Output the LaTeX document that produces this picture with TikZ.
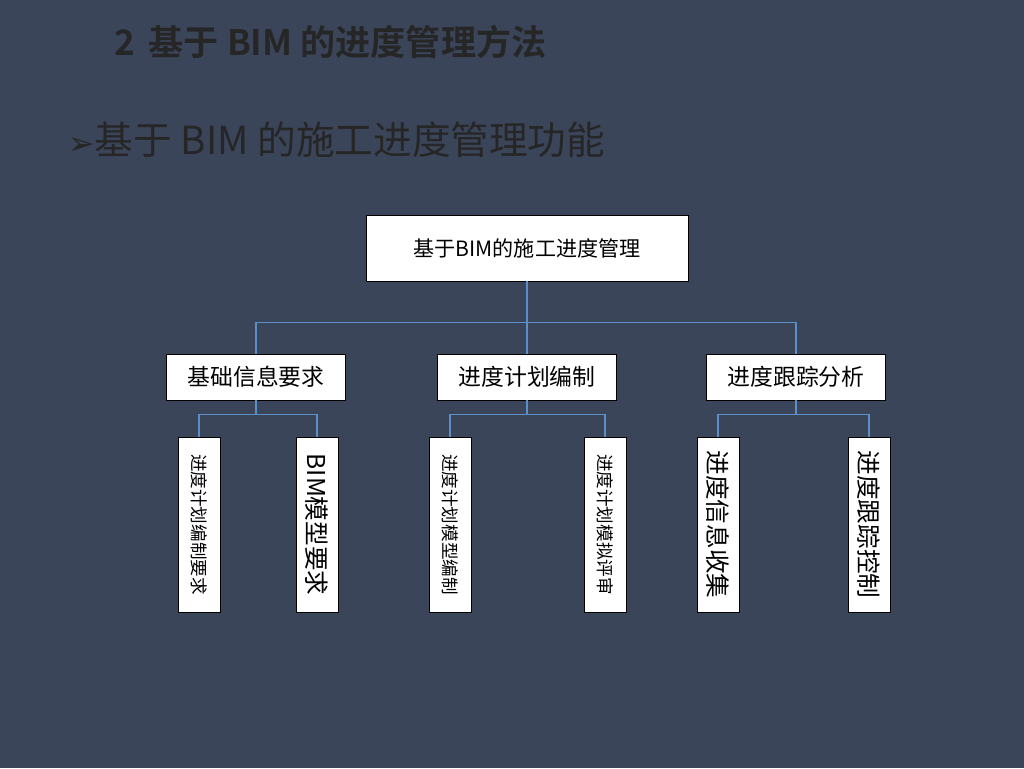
\documentclass[tikz,border=0pt]{standalone}
\usepackage{fontspec}
\setmainfont{Noto Sans CJK SC}[BoldFont={Noto Sans CJK SC Bold}]
\newfontfamily\symfont{DejaVu Sans}
\usetikzlibrary{positioning}
\definecolor{slide}{HTML}{3B4559}
\definecolor{link}{HTML}{5B8FC7}
\definecolor{ink}{HTML}{262626}
\tikzset{box/.style={draw=black, fill=white, inner sep=0pt, text=black}}
\tikzset{tall/.style={box, rotate=-90, minimum width=175*0.02cm, minimum height=42*0.02cm}}
\tikzset{wire/.style={draw=link, line width=0.8pt}}
\begin{document}
\begin{tikzpicture}[x=0.02cm, y=-0.02cm]
  \fill[slide] (0,0) rectangle (1024,768);
  \useasboundingbox (0,0) rectangle (1024,768);
  \node[anchor=west, text=ink, font=\bfseries\fontsize{20}{24}\selectfont] (title) at (108,42) {2\, 基于 BIM 的进度管理方法};
  \node[anchor=west, text=ink, font=\fontsize{22}{26}\selectfont] (sub) at (62,140) {{\symfont\fontsize{18}{20}\selectfont ➢}基于 BIM 的施工进度管理功能};
  % top
  \node[box, minimum width=322*0.02cm, minimum height=66*0.02cm, font=\fontsize{12}{14}\selectfont] (root) at (527,248) {基于BIM的施工进度管理};
  % second level
  \node[box, minimum width=179*0.02cm, minimum height=46*0.02cm, font=\fontsize{13}{15}\selectfont] (info) at (256,377) {基础信息要求};
  \node[box, minimum width=179*0.02cm, minimum height=46*0.02cm, font=\fontsize{13}{15}\selectfont] (plan) at (527,377) {进度计划编制};
  \node[box, minimum width=179*0.02cm, minimum height=46*0.02cm, font=\fontsize{13}{15}\selectfont] (track) at (796,377) {进度跟踪分析};
  % third level
  \node[tall, font=\fontsize{10}{12}\selectfont] (a1) at (199,524.5) {进度计划编制要求};
  \node[tall, font=\fontsize{14}{16}\selectfont] (a2) at (317,524.5) {BIM模型要求};
  \node[tall, font=\fontsize{10}{12}\selectfont] (b1) at (450,524.5) {进度计划模型编制};
  \node[tall, font=\fontsize{10}{12}\selectfont] (b2) at (605,524.5) {进度计划模拟评审};
  \node[tall, font=\fontsize{14}{16}\selectfont] (c1) at (718,524.5) {进度信息收集};
  \node[tall, font=\fontsize{14}{16}\selectfont] (c2) at (869,524.5) {进度跟踪控制};
  % links
  \draw[wire] (root.south) -- ++(0,41) -| (info.north);
  \draw[wire] (root.south) -- ++(0,41) -| (track.north);
  \draw[wire] (root.south) -- (plan.north);
  \foreach \p/\l/\r in {info/a1/a2, plan/b1/b2, track/c1/c2}{
    \draw[wire] (\p.south) -- ++(0,14) -| (\l.west);
    \draw[wire] (\p.south) -- ++(0,14) -| (\r.west);
  }
\end{tikzpicture}
\end{document}
